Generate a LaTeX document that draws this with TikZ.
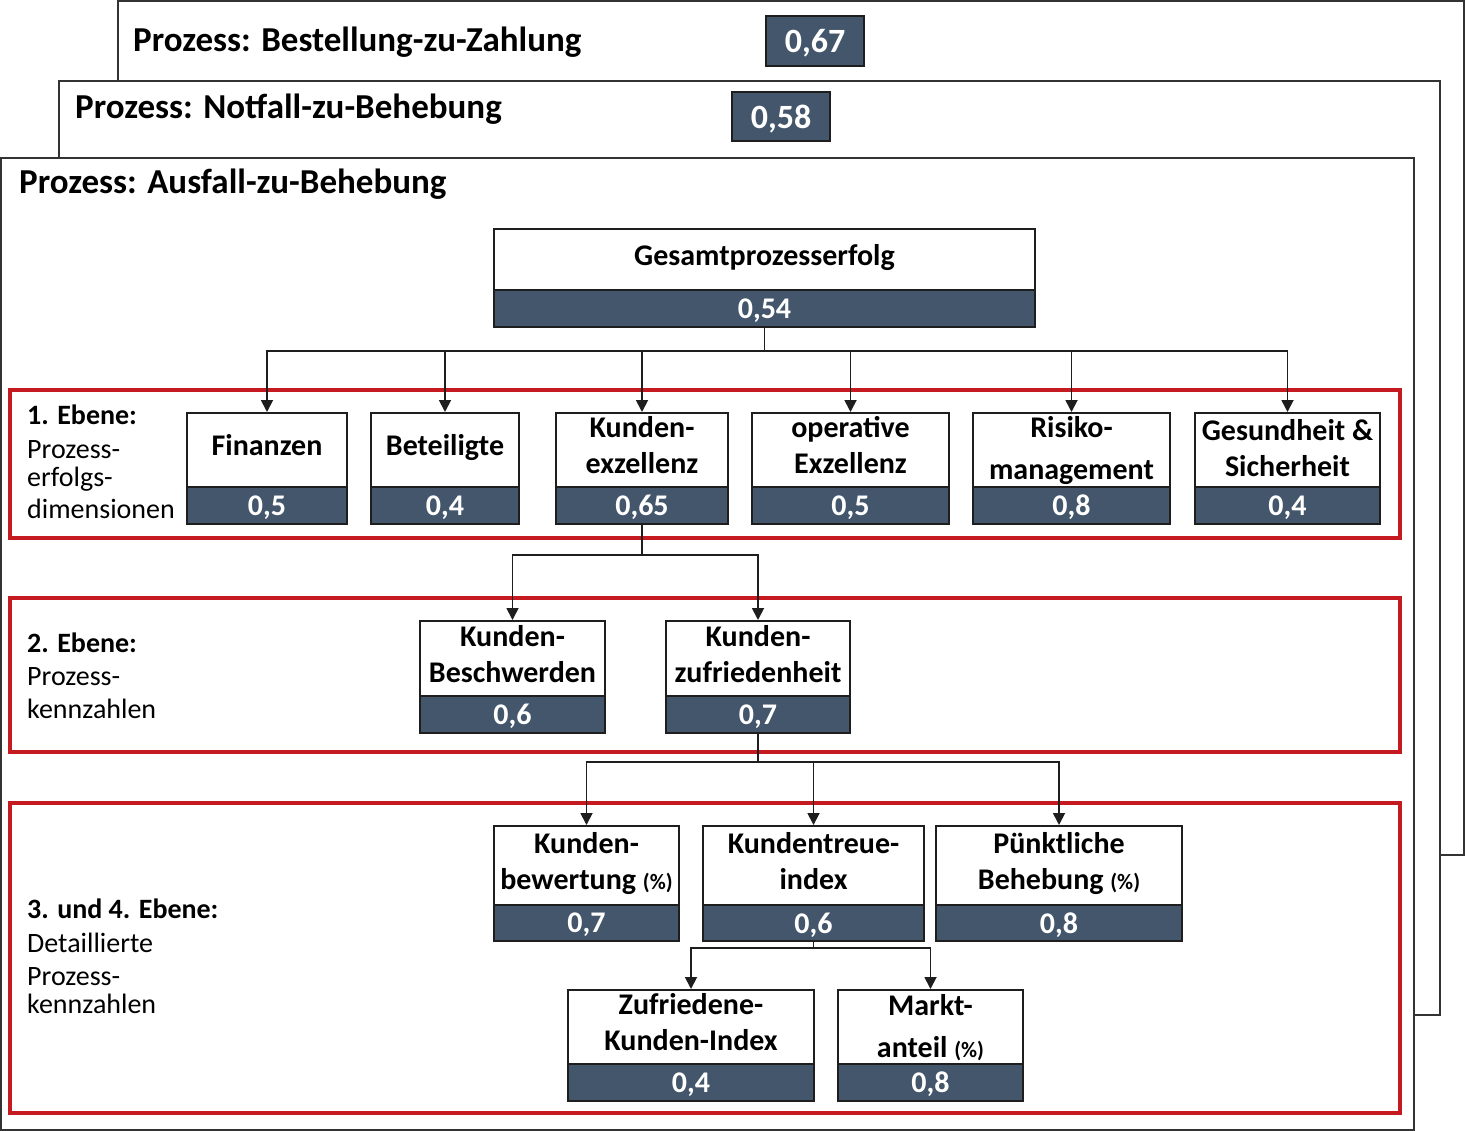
\documentclass[tikz,border=0pt]{standalone}
\usepackage{fontspec}
\setmainfont{Carlito}
\usetikzlibrary{arrows.meta}
\definecolor{valfill}{RGB}{68,86,108}
\definecolor{redframe}{RGB}{196,26,32}
\definecolor{framegray}{RGB}{51,51,51}
\definecolor{boxline}{RGB}{30,30,30}
\tikzset{
 procframe/.style={draw=framegray,line width=2pt,fill=white},
 redbox/.style={draw=redframe,line width=4.5pt},
 topbox/.style={draw=boxline,line width=2pt,fill=white,inner sep=0pt,align=center,text depth=10pt,font=\fontsize{30}{36}\selectfont\bfseries},
 valbox/.style={draw=boxline,line width=2pt,fill=valfill,inner sep=0pt,text=white,text depth=0pt,font=\fontsize{30}{36}\selectfont\bfseries},
 bigval/.style={valbox,font=\fontsize{34}{40}\selectfont\bfseries},
 conn/.style={line width=1.8pt,draw=boxline},
 arr/.style={conn,-{Triangle[length=12pt,width=12pt]}},
 lvlbold/.style={anchor=base west,inner sep=0pt,font=\fontsize{28}{32}\selectfont\bfseries},
 lvltext/.style={anchor=base west,inner sep=0pt,font=\fontsize{28}{32}\selectfont},
 titletext/.style={anchor=base west,inner sep=0pt,font=\fontsize{35}{40}\selectfont\bfseries},
}
\newcommand\metric[9][]{%
 \node[topbox,minimum width=#4-#3,minimum height=#6-#5,#1] (#2) at ({(#3+#4)/2},{(#5+#6)/2}) {#8};
 \node[valbox,minimum width=#4-#3,minimum height=#7-#6] (#2v) at ({(#3+#4)/2},{(#6+#7)/2}) {#9};
}
\newcommand\pct{{\fontsize{22}{26}\selectfont(\%)}}
\begin{document}
\begin{tikzpicture}[x=1pt,y=-1pt]
\useasboundingbox (0,0) rectangle (1466,1131);
% process frames
\draw[procframe] (118,1) rectangle (1464,855);
\node[titletext] (t1) at (133,52) {Prozess: Bestellung-zu-Zahlung};
\node[bigval,minimum width=98,minimum height=50] (v1) at (815,41) {0,67};
\draw[procframe] (59,81) rectangle (1440,1015);
\node[titletext] (t2) at (75,119) {Prozess: Notfall-zu-Behebung};
\node[bigval,minimum width=98,minimum height=49] (v2) at (781,116.5) {0,58};
\draw[procframe] (1,158) rectangle (1414,1130);
\node[titletext] (t3) at (19,194) {Prozess: Ausfall-zu-Behebung};
% red level frames
\draw[redbox] (10,390) rectangle (1400,538);
\draw[redbox] (10,598) rectangle (1400,752);
\draw[redbox] (10,803) rectangle (1400,1113);
% level labels
\node[lvlbold] (l1a) at (27,424) {1. Ebene:};
\node[lvltext] (l1b) at (27,458) {Prozess-};
\node[lvltext] (l1c) at (27,486) {erfolgs-};
\node[lvltext] (l1d) at (27,518) {dimensionen};
\node[lvlbold] (l2a) at (27,652) {2. Ebene:};
\node[lvltext] (l2b) at (27,685) {Prozess-};
\node[lvltext] (l2c) at (27,718) {kennzahlen};
\node[lvlbold] (l3a) at (27,918) {3. und 4. Ebene:};
\node[lvltext] (l3b) at (27,952) {Detaillierte};
\node[lvltext] (l3c) at (27,985) {Prozess-};
\node[lvltext] (l3d) at (27,1013) {kennzahlen};
% boxes
\metric{ges}{494}{1035}{229}{290}{327}{Gesamtprozesserfolg}{0,54}
\metric{fin}{187}{347}{413}{487}{524}{Finanzen}{0,5}
\metric{bet}{371}{519}{413}{487}{524}{Beteiligte}{0,4}
\metric{kex}{556}{728}{413}{487}{524}{Kunden-\\exzellenz}{0,65}
\metric{opx}{752}{949}{413}{487}{524}{operative\\Exzellenz}{0,5}
\metric[text depth=4pt]{ris}{973}{1170}{413}{487}{524}{Risiko-\\[6pt]management}{0,8}
\metric[text depth=4pt]{ges2}{1195}{1380}{413}{487}{524}{Gesundheit \&\\Sicherheit}{0,4}
\metric{kbs}{420}{605}{621}{696}{733}{Kunden-\\Beschwerden}{0,6}
\metric{kzf}{666}{850}{621}{696}{733}{Kunden-\\zufriedenheit}{0,7}
\metric{kbw}{494}{679}{826}{905}{941}{Kunden-\\bewertung \pct}{0,7}
\metric{ktr}{703}{924}{826}{905}{941}{Kundentreue-\\index}{0,6}
\metric{pbh}{936}{1182}{826}{905}{941}{Pünktliche\\Behebung \pct}{0,8}
\metric{zki}{568}{814}{990}{1064}{1101}{Zufriedene-\\Kunden-Index}{0,4}
\metric[text depth=3pt]{mkt}{838}{1023}{990}{1064}{1101}{Markt-\\[6pt]anteil \pct}{0,8}
% connectors
\coordinate (b1) at (764.5,351);
\draw[conn] (gesv.south) -- (b1);
\foreach \t in {fin,bet,kex,opx,ris,ges2} \draw[arr] (b1) -| (\t.north);
\coordinate (b2) at (642,555);
\draw[conn] (kexv.south) -- (b2);
\foreach \t in {kbs,kzf} \draw[arr] (b2) -| (\t.north);
\coordinate (b3) at (758,762);
\draw[conn] (kzfv.south) -- (b3);
\foreach \t in {kbw,ktr,pbh} \draw[arr] (b3) -| (\t.north);
\coordinate (b4) at (813.5,948);
\draw[conn] (ktrv.south) -- (b4);
\foreach \t in {zki,mkt} \draw[arr] (b4) -| (\t.north);
\end{tikzpicture}
\end{document}
